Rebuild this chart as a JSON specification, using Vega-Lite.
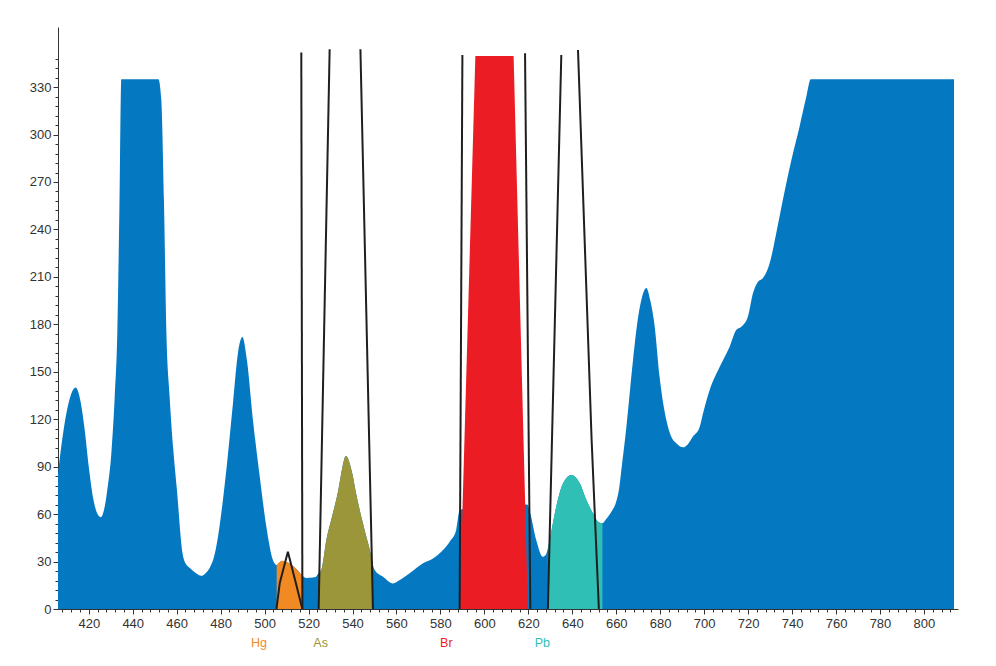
{
  "$schema": "https://vega.github.io/schema/vega-lite/v6.json",
  "autosize": "none",
  "width": 900,
  "height": 582,
  "padding": {"left": 58, "top": 27, "right": 38, "bottom": 57},
  "background": "white",
  "config": {"view": {"stroke": null}, "font": "Liberation Sans"},
  "datasets": {
    "spectrum": [
      {"x": 406, "y": 86}, {"x": 408, "y": 108}, {"x": 410, "y": 125}, {"x": 412, "y": 136}, {"x": 414, "y": 140},
      {"x": 416, "y": 133}, {"x": 418, "y": 115}, {"x": 420, "y": 90}, {"x": 422, "y": 70}, {"x": 424, "y": 60},
      {"x": 425.5, "y": 58}, {"x": 427, "y": 63}, {"x": 428.5, "y": 76}, {"x": 430.3, "y": 99}, {"x": 431.8, "y": 134},
      {"x": 433.0, "y": 176}, {"x": 433.9, "y": 250}, {"x": 434.8, "y": 335}, {"x": 451.7, "y": 335}, {"x": 453.0, "y": 322},
      {"x": 454.2, "y": 259}, {"x": 455.3, "y": 176}, {"x": 456.8, "y": 134}, {"x": 458.5, "y": 100}, {"x": 460, "y": 77},
      {"x": 462.7, "y": 35}, {"x": 464, "y": 29}, {"x": 466, "y": 26}, {"x": 468.5, "y": 23}, {"x": 471.2, "y": 21},
      {"x": 473, "y": 22.5}, {"x": 475, "y": 26}, {"x": 477, "y": 33}, {"x": 478.8, "y": 45.7}, {"x": 480.7, "y": 65},
      {"x": 482.6, "y": 88}, {"x": 485.6, "y": 130}, {"x": 487.9, "y": 162}, {"x": 489.9, "y": 172}, {"x": 492, "y": 157},
      {"x": 494.7, "y": 119.5}, {"x": 497.8, "y": 83.7}, {"x": 500.8, "y": 52}, {"x": 503.8, "y": 31}, {"x": 505.5, "y": 27.8},
      {"x": 508, "y": 30}, {"x": 510.7, "y": 29.3}, {"x": 513.5, "y": 26.5}, {"x": 516, "y": 23}, {"x": 517.2, "y": 21},
      {"x": 519, "y": 19.6}, {"x": 522.8, "y": 20}, {"x": 524.7, "y": 23}, {"x": 525.8, "y": 24.7}, {"x": 528.1, "y": 43.6},
      {"x": 531.1, "y": 60.7}, {"x": 533.5, "y": 75}, {"x": 535.3, "y": 89}, {"x": 536.2, "y": 94.5}, {"x": 536.9, "y": 96.7},
      {"x": 537.7, "y": 96}, {"x": 538.4, "y": 93.5},
      {"x": 540.0, "y": 85}, {"x": 541.5, "y": 74}, {"x": 543.2, "y": 63}, {"x": 545.5, "y": 50}, {"x": 548.6, "y": 33},
      {"x": 549.3, "y": 28}, {"x": 550.1, "y": 24.7},
      {"x": 553.9, "y": 20.4}, {"x": 558.4, "y": 16.2}, {"x": 561.5, "y": 18.3}, {"x": 566, "y": 22.6}, {"x": 572.1, "y": 28.9},
      {"x": 576.6, "y": 32}, {"x": 581.2, "y": 37.3}, {"x": 584.2, "y": 42.6}, {"x": 587.2, "y": 50}, {"x": 588.8, "y": 62.6},
      {"x": 604, "y": 66}, {"x": 619.5, "y": 66}, {"x": 620.6, "y": 62},
      {"x": 623.6, "y": 43.6}, {"x": 626.6, "y": 33}, {"x": 628.2, "y": 35}, {"x": 629.7, "y": 43.6}, {"x": 632.7, "y": 64.7},
      {"x": 635.8, "y": 79.5}, {"x": 639.6, "y": 84.7}, {"x": 643.4, "y": 79.5}, {"x": 646.4, "y": 69}, {"x": 649.4, "y": 60.5},
      {"x": 651.7, "y": 55.2}, {"x": 653.7, "y": 54.2}, {"x": 655.5, "y": 57}, {"x": 658, "y": 62}, {"x": 660, "y": 68},
      {"x": 661.3, "y": 76}, {"x": 662.5, "y": 90}, {"x": 664.6, "y": 115}, {"x": 667.6, "y": 157}, {"x": 670, "y": 185},
      {"x": 671.7, "y": 197}, {"x": 673.7, "y": 203}, {"x": 675.5, "y": 195}, {"x": 677.5, "y": 178.5}, {"x": 679.7, "y": 147},
      {"x": 682.8, "y": 119.5}, {"x": 685, "y": 109}, {"x": 687.3, "y": 104.8}, {"x": 690.4, "y": 102.2}, {"x": 692.5, "y": 104},
      {"x": 694.9, "y": 109}, {"x": 698, "y": 115.3}, {"x": 699.5, "y": 123.7}, {"x": 702.5, "y": 138.5}, {"x": 707.1, "y": 153.2},
      {"x": 711.6, "y": 165.9}, {"x": 714.6, "y": 176.4}, {"x": 716.9, "y": 178.5}, {"x": 719.9, "y": 184.8}, {"x": 722.2, "y": 199.6},
      {"x": 724.5, "y": 207}, {"x": 726.7, "y": 209.1}, {"x": 729.8, "y": 218.6}, {"x": 732.8, "y": 237.6}, {"x": 735.8, "y": 258.6},
      {"x": 739.7, "y": 283.9}, {"x": 743.4, "y": 305}, {"x": 746.5, "y": 324}, {"x": 748.5, "y": 335}, {"x": 813.7, "y": 335}
    ],
    "bands": [
      {"el": "Hg", "x": 505.5, "y": 27.8}, {"el": "Hg", "x": 508, "y": 30.5}, {"el": "Hg", "x": 510.7, "y": 29.3},
      {"el": "Hg", "x": 513.5, "y": 26.5}, {"el": "Hg", "x": 516, "y": 23}, {"el": "Hg", "x": 517.2, "y": 21.5},
      {"el": "As", "x": 524.7, "y": 23}, {"el": "As", "x": 525.8, "y": 24.7}, {"el": "As", "x": 528.1, "y": 43.6},
      {"el": "As", "x": 531.1, "y": 60.7}, {"el": "As", "x": 533.5, "y": 75}, {"el": "As", "x": 535.3, "y": 89},
      {"el": "As", "x": 536.2, "y": 94.5}, {"el": "As", "x": 536.9, "y": 96.7}, {"el": "As", "x": 537.7, "y": 96},
      {"el": "As", "x": 538.4, "y": 93.5}, {"el": "As", "x": 540.0, "y": 85},
      {"el": "As", "x": 541.5, "y": 74}, {"el": "As", "x": 543.2, "y": 63}, {"el": "As", "x": 545.5, "y": 50},
      {"el": "As", "x": 548.6, "y": 33}, {"el": "As", "x": 549.3, "y": 28},
      {"el": "Pb", "x": 628.9, "y": 38}, {"el": "Pb", "x": 629.7, "y": 43.6}, {"el": "Pb", "x": 632.7, "y": 64.7},
      {"el": "Pb", "x": 635.8, "y": 79.5}, {"el": "Pb", "x": 639.6, "y": 84.7}, {"el": "Pb", "x": 643.4, "y": 79.5},
      {"el": "Pb", "x": 646.4, "y": 69}, {"el": "Pb", "x": 649.4, "y": 60.5}, {"el": "Pb", "x": 651.7, "y": 55.2},
      {"el": "Pb", "x": 653.7, "y": 54.2}
    ],
    "red": [
      {"el": "Br", "x": 588.75, "y": 0}, {"el": "Br", "x": 595.9, "y": 349.7},
      {"el": "Br", "x": 613.3, "y": 349.7}, {"el": "Br", "x": 619.8, "y": 0}
    ],
    "filters": [
      {"id": "a", "i": 1, "x": 505.4, "y": 0}, {"id": "a", "i": 2, "x": 506.9, "y": 16.4},
      {"id": "a", "i": 3, "x": 510.6, "y": 36.2}, {"id": "a", "i": 4, "x": 517.2, "y": 0},
      {"id": "b", "i": 1, "x": 517.2, "y": 0}, {"id": "b", "i": 2, "x": 516.7, "y": 351.8},
      {"id": "c", "i": 1, "x": 524.6, "y": 0}, {"id": "c", "i": 2, "x": 529.6, "y": 353.9},
      {"id": "d", "i": 1, "x": 543.6, "y": 353.9}, {"id": "d", "i": 2, "x": 549.3, "y": 0},
      {"id": "e", "i": 1, "x": 588.75, "y": 0}, {"id": "e", "i": 2, "x": 590.0, "y": 350.3},
      {"id": "f", "i": 1, "x": 618.5, "y": 351.4}, {"id": "f", "i": 2, "x": 620.9, "y": 0},
      {"id": "g", "i": 1, "x": 628.9, "y": 0}, {"id": "g", "i": 2, "x": 635.0, "y": 350.3},
      {"id": "h", "i": 1, "x": 642.6, "y": 353.5}, {"id": "h", "i": 2, "x": 648.8, "y": 106.9}, {"id": "h", "i": 3, "x": 652.1, "y": 0}
    ],
    "labels": [
      {"el": "Hg", "x": 497.4, "y": -21.5},
      {"el": "As", "x": 525.5, "y": -21.5},
      {"el": "Br", "x": 582.7, "y": -21.5},
      {"el": "Pb", "x": 626.4, "y": -21.5}
    ]
  },
  "encoding": {
    "x": {
      "field": "x", "type": "quantitative",
      "scale": {"domain": [406, 815.5], "nice": false, "zero": false},
      "axis": {
        "title": null, "grid": false,
        "values": [408,412,416,420,424,428,432,436,440,444,448,452,456,460,464,468,472,476,480,484,488,492,496,500,504,508,512,516,520,524,528,532,536,540,544,548,552,556,560,564,568,572,576,580,584,588,592,596,600,604,608,612,616,620,624,628,632,636,640,644,648,652,656,660,664,668,672,676,680,684,688,692,696,700,704,708,712,716,720,724,728,732,736,740,744,748,752,756,760,764,768,772,776,780,784,788,792,796,800,804,808,812],
        "labelExpr": "datum.value % 20 === 0 ? datum.label : ''",
        "labelOverlap": false, "labelFlush": false,
        "tickSize": {"condition": {"test": "datum.value % 20 === 0", "value": 5}, "value": 3},
        "domainColor": "#333333", "tickColor": "#333333", "labelColor": "#333333",
        "labelFont": "Liberation Sans", "labelFontSize": 13, "labelPadding": 3
      }
    },
    "y": {
      "field": "y", "type": "quantitative",
      "scale": {"domain": [0, 368], "nice": false},
      "axis": {
        "title": null, "grid": false,
        "values": [0,6,12,18,24,30,36,42,48,54,60,66,72,78,84,90,96,102,108,114,120,126,132,138,144,150,156,162,168,174,180,186,192,198,204,210,216,222,228,234,240,246,252,258,264,270,276,282,288,294,300,306,312,318,324,330,336,342,348],
        "labelExpr": "datum.value % 30 === 0 ? datum.label : ''",
        "labelOverlap": false, "labelFlush": false,
        "tickSize": {"condition": {"test": "datum.value % 30 === 0", "value": 5}, "value": 3},
        "domainColor": "#333333", "tickColor": "#333333", "labelColor": "#333333",
        "labelFont": "Liberation Sans", "labelFontSize": 13, "labelPadding": 2
      }
    }
  },
  "layer": [
    {
      "data": {"name": "spectrum"},
      "mark": {"type": "area", "color": "#0479c2", "interpolate": "monotone"}
    },
    {
      "data": {"name": "bands"},
      "mark": {"type": "area", "interpolate": "monotone"},
      "encoding": {
        "y": {"field": "y", "type": "quantitative", "stack": null},
        "color": {"field": "el", "type": "nominal", "legend": null,
          "scale": {"domain": ["Hg", "As", "Br", "Pb"], "range": ["#f28a24", "#9b963a", "#ec1c24", "#30bfb5"]}}
      }
    },
    {
      "data": {"name": "red"},
      "mark": {"type": "area", "interpolate": "linear", "color": "#ec1c24"}
    },
    {
      "data": {"name": "filters"},
      "mark": {"type": "line", "color": "#1f1f1f", "strokeWidth": 2},
      "encoding": {
        "detail": {"field": "id", "type": "nominal"},
        "order": {"field": "i", "type": "quantitative"}
      }
    },
    {
      "data": {"name": "labels"},
      "mark": {"type": "text", "font": "Liberation Sans", "fontSize": 12.5, "baseline": "middle", "align": "center"},
      "encoding": {
        "text": {"field": "el", "type": "nominal"},
        "color": {"field": "el", "type": "nominal", "legend": null,
          "scale": {"domain": ["Hg", "As", "Br", "Pb"], "range": ["#f28a24", "#a39c48", "#ec1c24", "#3cc2b8"]}}
      }
    }
  ]
}
